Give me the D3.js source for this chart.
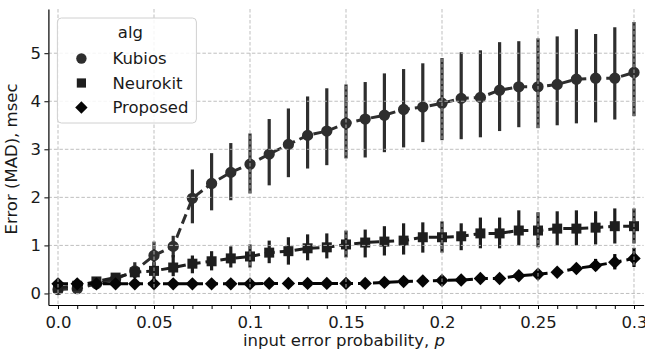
<!DOCTYPE html>
<html>
<head>
<meta charset="utf-8">
<script src="https://cdn.jsdelivr.net/npm/d3@7"></script>
<style>
  body { margin: 0; background: #fff; }
  svg text { font-family: "DejaVu Sans", sans-serif; fill: #1a1a1a; }
</style>
</head>
<body>
<div id="chart"></div>
<script>
// categories: input error probability p = 0.00 .. 0.30
const categories = ["0.00","0.01","0.02","0.03","0.04","0.05","0.06","0.07","0.08","0.09",
  "0.10","0.11","0.12","0.13","0.14","0.15","0.16","0.17","0.18","0.19",
  "0.20","0.21","0.22","0.23","0.24","0.25","0.26","0.27","0.28","0.29","0.30"];
const tickLabels = {"0.00": "0.0", "0.05": "0.05", "0.10": "0.1", "0.15": "0.15", "0.20": "0.2", "0.25": "0.25", "0.30": "0.3"};
const yTicks = [0, 1, 2, 3, 4, 5];

const kubiosMean = [0.08,0.1,0.2,0.3,0.47,0.79,0.98,1.98,2.29,2.52,2.69,2.9,3.1,3.29,3.38,3.54,3.63,3.71,3.83,3.88,3.96,4.06,4.08,4.23,4.3,4.3,4.35,4.46,4.48,4.48,4.6];
const kubiosLo = [0.02,0.04,0.12,0.2,0.32,0.5,0.75,1.46,1.73,1.94,2.08,2.25,2.42,2.6,2.67,2.81,2.83,2.94,3.04,3.15,3.19,3.21,3.25,3.38,3.46,3.44,3.5,3.54,3.56,3.62,3.69];
const kubiosHi = [0.15,0.18,0.28,0.42,0.65,1.08,1.2,2.58,2.92,3.13,3.33,3.63,3.85,4.1,4.27,4.35,4.4,4.58,4.67,4.79,4.9,5.02,5.06,5.23,5.25,5.31,5.35,5.5,5.4,5.54,5.65];

const neurokitMean = [0.12,0.16,0.25,0.33,0.44,0.47,0.54,0.62,0.67,0.73,0.77,0.85,0.88,0.94,0.96,1.02,1.06,1.08,1.1,1.17,1.17,1.19,1.25,1.25,1.31,1.31,1.35,1.35,1.37,1.4,1.4];
const neurokitLo = [0.06,0.1,0.18,0.25,0.33,0.3,0.36,0.42,0.48,0.54,0.54,0.63,0.6,0.69,0.73,0.75,0.75,0.79,0.81,0.85,0.85,0.9,0.94,0.94,1.0,0.96,1.0,1.0,1.02,1.04,1.04];
const neurokitHi = [0.18,0.22,0.32,0.42,0.56,0.65,0.8,0.79,0.88,0.98,1.02,1.1,1.17,1.23,1.25,1.31,1.33,1.4,1.46,1.48,1.5,1.46,1.58,1.58,1.73,1.69,1.71,1.73,1.71,1.77,1.77];

const proposedMean = [0.2,0.2,0.2,0.2,0.2,0.2,0.2,0.2,0.2,0.2,0.2,0.21,0.21,0.21,0.21,0.21,0.21,0.23,0.25,0.26,0.27,0.28,0.31,0.31,0.37,0.4,0.44,0.52,0.58,0.65,0.73];
const proposedLo = [0.16,0.16,0.16,0.16,0.16,0.16,0.16,0.16,0.16,0.16,0.16,0.17,0.17,0.17,0.17,0.17,0.17,0.18,0.2,0.21,0.22,0.23,0.25,0.25,0.3,0.32,0.36,0.42,0.47,0.5,0.55];
const proposedHi = [0.24,0.24,0.24,0.24,0.24,0.24,0.24,0.24,0.24,0.24,0.24,0.25,0.25,0.25,0.25,0.25,0.25,0.28,0.3,0.31,0.32,0.34,0.37,0.38,0.45,0.48,0.53,0.62,0.72,0.82,0.95];

const algNames = ["Kubios", "Neurokit", "Proposed"];

// build series table (diamond = square turned 45 degrees, like matplotlib "D")
const series = [
    {name: algNames[0], mean: kubiosMean, lo: kubiosLo, hi: kubiosHi, color: "#2e2e2e", shape: d3.symbolCircle, size: 100, rot: 0},
    {name: algNames[1], mean: neurokitMean, lo: neurokitLo, hi: neurokitHi, color: "#1e1e1e", shape: d3.symbolSquare, size: 100, rot: 0},
    {name: algNames[2], mean: proposedMean, lo: proposedLo, hi: proposedHi, color: "#050505", shape: d3.symbolSquare, size: 90, rot: 45}
];

const W = 645, H = 350;
const margin = {top: 9, right: 1.4, bottom: 45, left: 48.4};
const width = W - margin.left - margin.right;
const height = H - margin.top - margin.bottom;

const svg = d3.select("#chart").append("svg")
    .attr("width", W)
    .attr("height", H)
    .append("g")
    .attr("transform", "translate(" + margin.left + "," + margin.top + ")");

const x = d3.scalePoint()
    .domain(categories)
    .range([0, width])
    .padding(0.5);

const y = d3.scaleLinear()
    .domain([-0.24, 5.92])
    .range([height, 0]);

// ---- DATA ----
series.forEach(s => {
    let g = svg.append("g").attr("class", "series");
    let pts = categories.map((c, i) => ({c: c, m: s.mean[i], lo: s.lo[i], hi: s.hi[i]}));

    // error bars
    g.selectAll("line.err")
        .data(pts)
        .join("line")
        .attr("class", "err")
        .attr("x1", d => x(d.c))
        .attr("x2", d => x(d.c))
        .attr("y1", d => y(d.lo))
        .attr("y2", d => y(d.hi))
        .attr("stroke", s.color)
        .attr("stroke-width", 3.2);

    // dashed connecting line
    g.append("path")
        .datum(pts)
        .attr("fill", "none")
        .attr("stroke", s.color)
        .attr("stroke-width", 3)
        .attr("stroke-dasharray", "10,5")
        .attr("d", d3.line().x(d => x(d.c)).y(d => y(d.m)));

    // markers
    g.selectAll("path.mark")
        .data(pts)
        .join("path")
        .attr("class", "mark")
        .attr("transform", d => `translate(${x(d.c)},${y(d.m)}) rotate(${s.rot})`)
        .attr("d", d3.symbol().type(s.shape).size(s.size))
        .attr("fill", s.color);
});

// ---- GRID (drawn over the data, like the original) ----
let grid = svg.append("g").attr("class", "grid");
grid.selectAll("line.hgrid")
    .data(yTicks)
    .join("line")
    .attr("x1", 0).attr("x2", width)
    .attr("y1", d => y(d)).attr("y2", d => y(d))
    .attr("stroke", "#b8b8b8")
    .attr("stroke-width", 0.9)
    .attr("stroke-dasharray", "3.5,2");
grid.selectAll("line.vgrid")
    .data(Object.keys(tickLabels))
    .join("line")
    .attr("x1", d => x(d)).attr("x2", d => x(d))
    .attr("y1", 0).attr("y2", height)
    .attr("stroke", "#b8b8b8")
    .attr("stroke-width", 0.9)
    .attr("stroke-dasharray", "3.5,2");

// ---- AXES ----
let xAxis = d3.axisBottom(x)
    .tickSize(4)
    .tickSizeOuter(0)
    .tickFormat(d => tickLabels[d] || "");
let yAxis = d3.axisLeft(y)
    .tickValues(yTicks)
    .tickSize(4)
    .tickSizeOuter(0)
    .tickFormat(d3.format("d"));

let xg = svg.append("g")
    .attr("transform", "translate(0," + height + ")")
    .call(xAxis);
let yg = svg.append("g").call(yAxis);

[xg, yg].forEach(g => {
    g.select(".domain").attr("stroke", "#000").attr("stroke-width", 1.2);
    g.selectAll(".tick line").attr("stroke", "#000").attr("stroke-width", 1);
    g.selectAll(".tick text")
        .attr("font-family", "DejaVu Sans")
        .attr("font-size", "16.5px")
        .attr("fill", "#1a1a1a");
});
xg.selectAll(".tick text").attr("dy", "0.95em");
yg.selectAll(".tick text").attr("x", -7.5);

// axis labels
let xl = svg.append("text")
    .attr("x", width / 2 - 2)
    .attr("y", height + 41)
    .attr("text-anchor", "middle")
    .attr("font-size", "16.5px");
xl.append("tspan").text("input error probability, ");
xl.append("tspan").attr("font-style", "italic").text("p");

svg.append("text")
    .attr("transform", `translate(${-31},${height / 2 + 2}) rotate(-90)`)
    .attr("text-anchor", "middle")
    .attr("font-size", "16.5px")
    .text("Error (MAD), msec");

// ---- LEGEND ----
let lg = svg.append("g").attr("transform", "translate(9,9)");
lg.append("rect")
    .attr("width", 139)
    .attr("height", 105)
    .attr("rx", 4)
    .attr("fill", "#fff")
    .attr("fill-opacity", 0.85)
    .attr("stroke", "#d0d0d0")
    .attr("stroke-width", 1);
lg.append("text")
    .attr("x", 73)
    .attr("y", 20)
    .attr("text-anchor", "middle")
    .attr("font-size", "16.5px")
    .text("alg");
series.forEach((s, i) => {
    let cy = 40.5 + i * 24.5;
    lg.append("path")
        .attr("transform", `translate(24,${cy}) rotate(${s.rot})`)
        .attr("d", d3.symbol().type(s.shape).size(s.size * 0.85))
        .attr("fill", s.color);
    lg.append("text")
        .attr("x", 55)
        .attr("y", cy)
        .attr("dy", "0.36em")
        .attr("font-size", "16.5px")
        .text(s.name);
});
</script>
</body>
</html>
